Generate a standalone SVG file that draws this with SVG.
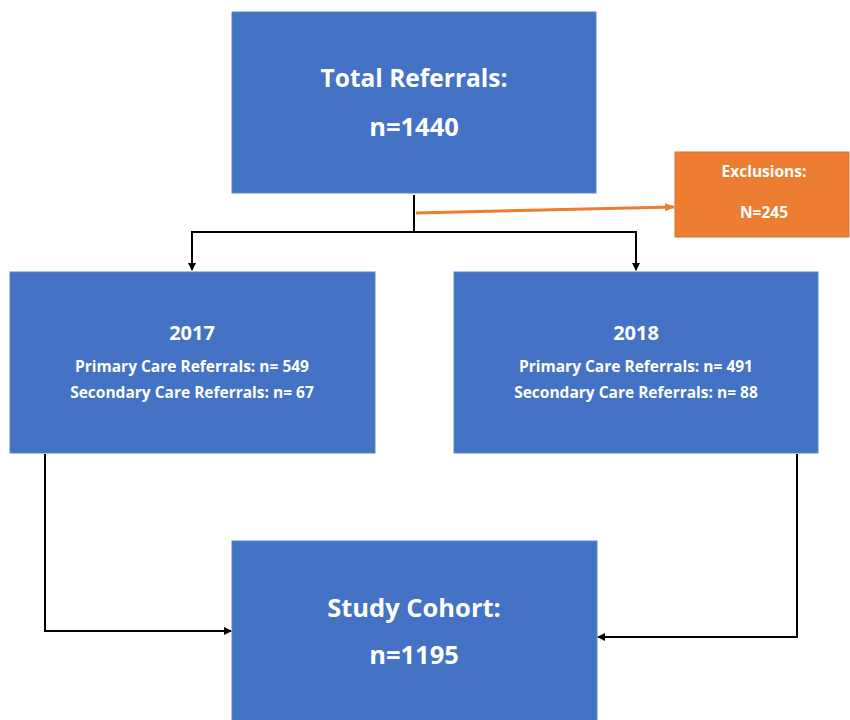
<svg xmlns="http://www.w3.org/2000/svg" width="850" height="720" viewBox="0 0 850 720">
<style>
.b{fill:#4472C4;stroke:#5B86D0;stroke-width:1}
.o{fill:#ED7D31;stroke:#D9702A;stroke-width:1}
text{font-family:"Open Sans","Liberation Sans",sans-serif;font-weight:bold;fill:#fff;text-anchor:middle}
.t1{font-size:24.5px}
.t2{font-size:25.5px}
.mid{font-size:20px}
.sm{font-size:15.5px}
.xs{font-size:15.5px}
.k{fill:none;stroke:#000;stroke-width:2}
</style>
<defs>
<marker id="ak" markerWidth="8" markerHeight="8" refX="7" refY="4" orient="auto" markerUnits="userSpaceOnUse"><path d="M0,0 L8,4 L0,8 z" fill="#000"/></marker>
<marker id="ao" markerWidth="10" markerHeight="8" refX="9" refY="4" orient="auto" markerUnits="userSpaceOnUse"><path d="M0,0 L10,4 L0,8 z" fill="#ED7D31"/></marker>
</defs>
<g id="connectors">
<path class="k" d="M414,195 V232"/>
<path class="k" d="M192,232 H636"/>
<path class="k" d="M192,231 V270" marker-end="url(#ak)"/>
<path class="k" d="M636,231 V270" marker-end="url(#ak)"/>
<path d="M416,213 L674,207" stroke="#ED7D31" stroke-width="3" fill="none" marker-end="url(#ao)"/>
<path class="k" d="M45,454 V631 H231" marker-end="url(#ak)"/>
<path class="k" d="M797,454 V637 H598" marker-end="url(#ak)"/>
</g>
<g id="total">
<rect class="b" x="232" y="12" width="364" height="181"/>
<text class="t1" x="414" y="87">Total Referrals:</text>
<text class="t2" x="414" y="136">n=1440</text>
</g>
<g id="exclusions">
<rect class="o" x="675" y="152" width="174" height="85"/>
<text class="xs" x="764" y="177">Exclusions:</text>
<text class="xs" x="764" y="218">N=245</text>
</g>
<g id="y2017">
<rect class="b" x="10" y="272" width="365" height="181"/>
<text class="mid" x="192" y="340">2017</text>
<text class="sm" x="192" y="372">Primary Care Referrals: n= 549</text>
<text class="sm" x="192" y="398">Secondary Care Referrals: n= 67</text>
</g>
<g id="y2018">
<rect class="b" x="454" y="272" width="364" height="181"/>
<text class="mid" x="636" y="340">2018</text>
<text class="sm" x="636" y="372">Primary Care Referrals: n= 491</text>
<text class="sm" x="636" y="398">Secondary Care Referrals: n= 88</text>
</g>
<g id="cohort">
<rect class="b" x="232" y="541" width="365" height="185"/>
<text class="t2" x="414" y="617">Study Cohort:</text>
<text class="t2" x="414" y="664">n=1195</text>
</g>
</svg>
